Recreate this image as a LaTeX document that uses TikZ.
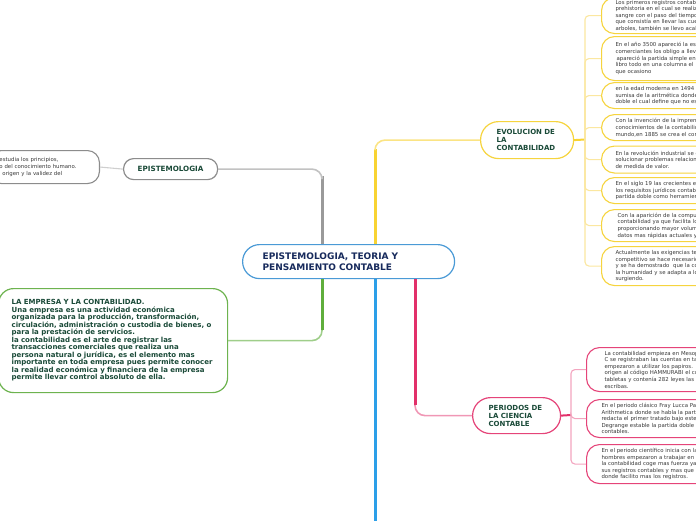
\documentclass[tikz,border=0pt]{standalone}
\usepackage{fontspec}
\setmainfont{DejaVu Sans}
\definecolor{graytrunk}{HTML}{9A9A9A}
\definecolor{graythin}{HTML}{CFCFCF}
\definecolor{grayborder}{HTML}{8C8C8C}
\definecolor{yeltrunk}{HTML}{F8D332}
\definecolor{yelthin}{HTML}{FBE7A0}
\definecolor{yelborder}{HTML}{F6D43E}
\definecolor{greentrunk}{HTML}{5FAE3C}
\definecolor{greenthin}{HTML}{A9D491}
\definecolor{greenborder}{HTML}{6DB34F}
\definecolor{bluetrunk}{HTML}{2C9FE8}
\definecolor{blueborder}{HTML}{4A9AD6}
\definecolor{pinktrunk}{HTML}{E2306A}
\definecolor{pinkthin}{HTML}{F3A5BF}
\definecolor{pinkborder}{HTML}{E54479}
\definecolor{titlegreen}{HTML}{1A4A38}
\definecolor{titlenavy}{HTML}{172A5C}
\definecolor{txtgray}{HTML}{3A3A3A}
\begin{document}
\begin{tikzpicture}[x=1pt,y=-1pt,
  smalltxt/.style={font=\fontsize{5.4}{6.6}\selectfont, text=txtgray},
  childbox/.style={draw, line width=1.1pt, fill=white, rounded corners=13, anchor=north west,
     text width=200pt, align=left, inner xsep=14pt, inner ysep=0pt, smalltxt},
  ybox/.style={childbox, draw=yelborder},
  pbox/.style={childbox, draw=pinkborder},
  titlebox/.style={draw, line width=1.2pt, fill=white, anchor=north west, align=left,
     inner ysep=0pt, font=\fontsize{7}{8}\selectfont\bfseries, text=titlegreen},
  trunk/.style={line width=3pt},
  twig/.style={line width=1.6pt, rounded corners=10},
  leaf/.style={line width=1.1pt, rounded corners=4},
]
\useasboundingbox (0,0) rectangle (696,520);
\clip (0,0) rectangle (696,520);

% central topic
\node[draw=blueborder, line width=1.2pt, fill=white, rounded corners=17, anchor=north west,
  minimum width=212pt, minimum height=34pt, text width=172pt, inner xsep=20pt, inner ysep=0pt,
  align=left, font=\fontsize{9}{11}\selectfont\bfseries, text=titlenavy]
  (root) at (242,244) {EPISTEMOLOGIA, TEORIA Y\\PENSAMIENTO CONTABLE};

% main topics
\node[titlebox, draw=grayborder, rounded corners=10, minimum width=94pt, minimum height=21pt,
  text width=80pt, inner xsep=7pt, align=center, font=\fontsize{7.2}{8}\selectfont\bfseries]
  (epi) at (123,158) {EPISTEMOLOGIA};
\node[titlebox, draw=yelborder, rounded corners=18, minimum width=93pt, minimum height=37pt,
  text width=61pt, inner xsep=16pt] (evo) at (480,121) {EVOLUCION~DE\\LA\\CONTABILIDAD};
\node[titlebox, draw=pinkborder, rounded corners=18, minimum width=88pt, minimum height=36pt,
  text width=56pt, inner xsep=16pt] (per) at (472,397) {PERIODOS~DE\\LA~CIENCIA\\CONTABLE};

% definition of epistemology (cut by the left edge)
\node[draw=grayborder, line width=1.1pt, fill=white, rounded corners=12, anchor=north east,
  minimum height=33pt, text width=90pt, inner xsep=10pt, inner ysep=0pt, align=left, smalltxt]
  (def) at (100,150) {estudia los principios,\\o del conocimiento humano.\\\hspace*{3pt}origen y la validez del};

% la empresa
\node[draw=greenborder, line width=1.2pt, fill=white, rounded corners=15, anchor=north west,
  minimum width=229pt, minimum height=104pt, text width=203pt, inner xsep=13pt, inner ysep=0pt,
  align=left, font=\fontsize{7}{7.5}\selectfont\bfseries, text=titlegreen]
  (emp) at (-2,288) {LA EMPRESA Y LA CONTABILIDAD.\\
Una empresa es una actividad económica\\
organizada para la producción, transformación,\\
circulación, administración o custodia de bienes, o\\
para la prestación de servicios.\\
la contabilidad es el arte de registrar las\\
transacciones comerciales que realiza una\\
persona natural o jurídica, es el elemento mas\\
importante en toda empresa pues permite conocer\\
la realidad económica y financiera de la empresa\\
permite llevar control absoluto de ella.};

% evolution children
\node[ybox, minimum height=36pt] (e1) at (601,-3) {Los primeros registros contables\\prehistoria en el cual se realizaban\\sangre con el paso del tiempo\\que consistía en llevar las cuentas\\arboles, también se llevo acabo};
\node[ybox, minimum height=44pt] (e2) at (601,36) {En el año 3500 apareció la escritura\\comerciantes los obligo a llevar\\\hspace*{1pt}apareció la partida simple en\\libro todo en una columna el\\que ocasiono};
\node[ybox, minimum height=26pt] (e3) at (601,82) {en la edad moderna en 1494\\sumisa de la aritmética donde\\doble el cual define que no es};
\node[ybox, minimum height=26pt] (e4) at (601,114) {Con la invención de la imprenta\\conocimientos de la contabilidad\\mundo,en 1885 se crea el comercio};
\node[ybox, minimum height=27pt] (e5) at (601,145.5) {En la revolución industrial se empezó\\solucionar problemas relacionados\\de medida de valor.};
\node[ybox, minimum height=26pt] (e6) at (601,177) {En el siglo 19 las crecientes exigencias\\los requisitos jurídicos contables\\partida doble como herramienta};
\node[ybox, minimum height=32pt, inner xsep=16pt] (e7) at (601,209) {Con la aparición de la computadora\\contabilidad ya que facilita los\\proporcionando mayor volumen\\datos mas rápidas actuales y};
\node[ybox, minimum height=39pt] (e8) at (601,246) {Actualmente las exigencias tecnológicas\\competitivo se hace necesario\\y se ha demostrado\ \ que la contabilidad\\la humanidad y se adapta a los\\surgiendo.};

% period children
\node[pbox, minimum height=44pt, inner xsep=18pt] (p1) at (586,347) {La contabilidad empieza en Mesopotamia\\C se registraban las cuentas en tablillas\\empezaron a utilizar los papiros.\\origen al código HAMMURABI el cual\\tabletas y contenía 282 leyes las\\escribas.};
\node[pbox, minimum height=38pt, inner xsep=15pt] (p2) at (586,399) {En el periodo clásico Fray Lucca Pacioli\\Arithmetica donde se habla la partida\\redacta el primer tratado bajo este\\Degrange estable la partida doble\\contables.};
\node[pbox, minimum height=39pt, inner xsep=15pt] (p3) at (586,444) {En el periodo científico inicia con la\\hombres empezaron a trabajar en\\la contabilidad coge mas fuerza ya\\sus registros contables y mas que\\donde facilito mas los registros.};

% bend points of the main connectors
\coordinate (gbend) at (322,176);
\coordinate (ybend) at (375,149);
\coordinate (grbend) at (322,330);
\coordinate (pbend) at (415,405);
\coordinate (bluend) at (375,521);
\coordinate (ejoin) at (585,139.5);
\coordinate (pjoin) at (571,415);

% main connectors
\draw[trunk, graytrunk] (root.north -| gbend) -- (gbend);
\draw[twig, graytrunk!60] (gbend) |- (epi.east);
\draw[leaf, graythin] (epi.west) -- (def.east);
\draw[trunk, yeltrunk] (root.north -| ybend) -- (ybend);
\draw[twig, yeltrunk!60] (ybend) |- (evo.west);
\draw[trunk, greentrunk] (root.south -| grbend) -- (grbend);
\draw[twig, greentrunk!60] (grbend) |- (emp.east);
\draw[trunk, bluetrunk] (root.south -| bluend) -- (bluend);
\draw[trunk, pinktrunk] (root.south -| pbend) -- (pbend);
\draw[twig, pinktrunk!50] (pbend) |- (per.west);

% child connectors
\draw[line width=2pt, yeltrunk] (evo.east) -- (ejoin);
\foreach \c in {e1,e2,e3,e4,e5,e6,e7,e8}{
  \draw[leaf, yelthin] (ejoin) |- (\c.west);
}
\draw[line width=2pt, pinktrunk] (per.east) -- (pjoin);
\foreach \c in {p1,p2,p3}{
  \draw[leaf, pinkthin] (pjoin) |- (\c.west);
}
\end{tikzpicture}
\end{document}
